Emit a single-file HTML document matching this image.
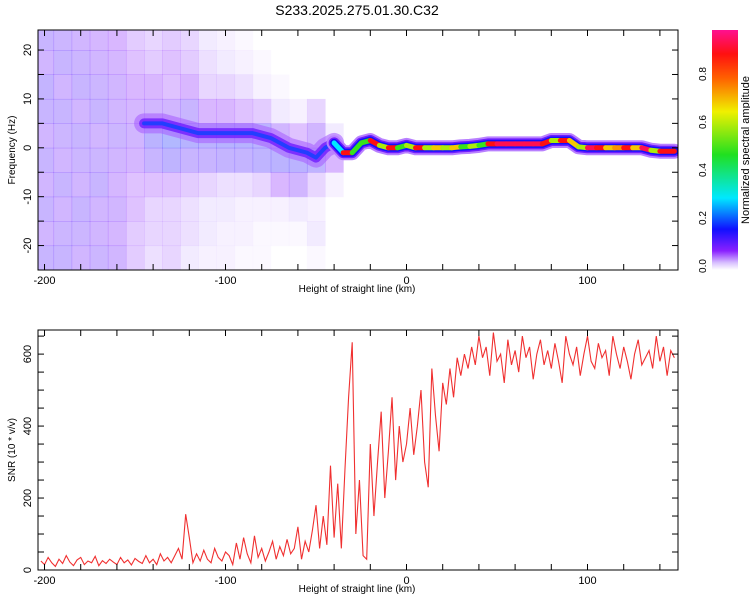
<!DOCTYPE html>
<html><head><meta charset="utf-8"><style>
body{margin:0;background:#fff;}
svg text{font-family:"Liberation Sans",sans-serif;fill:#000;}
</style></head><body>
<svg id="c" width="750" height="600" viewBox="0 0 750 600" xmlns="http://www.w3.org/2000/svg">
<text x="357" y="15" font-size="14" text-anchor="middle">S233.2025.275.01.30.C32</text>
<defs><linearGradient id="cbg" x1="0" y1="1" x2="0" y2="0">
<stop offset="0" stop-color="#ffffff"/><stop offset="0.03" stop-color="#d8c0ff"/><stop offset="0.08" stop-color="#8a20ff"/><stop offset="0.17" stop-color="#1010ff"/><stop offset="0.3" stop-color="#00e8ff"/><stop offset="0.48" stop-color="#20e020"/><stop offset="0.66" stop-color="#f0f000"/><stop offset="0.8" stop-color="#ff6000"/><stop offset="0.9" stop-color="#ff1010"/><stop offset="1" stop-color="#ff1090"/></linearGradient>
<clipPath id="clipTop"><rect x="38" y="30" width="640" height="240"/></clipPath>
<clipPath id="clipBot"><rect x="38" y="330" width="640" height="240"/></clipPath></defs>
<g id="topPanel"></g>
<g id="botPanel"></g>
<rect x="712" y="30" width="26" height="240" fill="url(#cbg)"/>
<text transform="translate(749,150) rotate(-90)" font-size="11" text-anchor="middle">Normalized spectral amplitude</text>
<g id="cbt"></g>
</svg>
<script>
const heatH=[-200,-190,-180,-170,-160,-150,-140,-130,-120,-110,-100,-90,-80,-70,-60,-50,-40];
const heatF=[22.5,17.5,12.5,7.5,2.5,-2.5,-7.5,-12.5,-17.5,-22.5];
const heatV=[
[.12,.1,.13,.12,.1,.12,.1,.12,.1,.12],
[.11,.12,.1,.12,.11,.1,.12,.1,.11,.12],
[.1,.11,.12,.1,.12,.11,.1,.12,.11,.1],
[.09,.1,.11,.12,.1,.11,.12,.1,.1,.11],
[.08,.09,.1,.1,.11,.1,.09,.1,.09,.1],
[.06,.07,.08,.09,.1,.09,.07,.07,.06,.06],
[.05,.06,.08,.1,.15,.12,.07,.05,.05,.04],
[.06,.07,.07,.1,.18,.14,.07,.05,.05,.05],
[.05,.06,.08,.12,.16,.12,.06,.04,.04,.03],
[.03,.04,.05,.08,.15,.12,.05,.03,.03,.02],
[.02,.03,.05,.08,.16,.13,.04,.03,.02,.02],
[.01,.02,.04,.07,.16,.13,.04,.02,.02,.01],
[0,.01,.02,.06,.15,.14,.05,.02,.01,.01],
[0,0,.01,.03,.1,.15,.08,.02,.01,0],
[0,0,0,.02,.07,.15,.1,.03,.01,0],
[0,0,0,.05,.1,.14,.05,.02,.03,.01],
[0,0,0,0,.03,.08,.02,0,0,0]];
const ridgeH=[-145,-135,-125,-115,-105,-95,-85,-75,-65,-55,-50,-45,-40,-35,-30,-25,-20,-15,-10,-5,0,5,10,15,20,25,30,35,40,45,50,55,60,65,70,75,80,85,90,95,100,105,110,115,120,125,130,135,140,148];
const ridgeF=[5,5,4,3,3,3,3,2,0,-1,-2,0,1,-1,-1,1,1.5,0.5,0,0,0.5,0,0,0,0,0,0.2,0.3,0.5,0.8,0.8,0.8,0.8,0.8,0.8,0.8,1.5,1.5,1.5,0.2,0,0,0,0,0,0,0,-0.5,-0.7,-0.7];
const ridgeA=[.2,.25,.2,.2,.22,.2,.2,.22,.18,.2,.2,.25,.3,.9,.5,.5,.9,.6,.9,.5,.6,.9,.6,.7,.6,.7,.5,.6,.5,.9,.95,.95,.95,.95,.95,.9,.6,.9,.7,.6,.95,.9,.7,.75,.9,.7,.95,.6,.9,.95];
const snrH=[];for(let h=-202;h<=148;h+=2)snrH.push(h);
const snrV=[25,15,35,20,10,30,18,40,22,12,28,35,15,25,20,38,12,26,18,30,22,15,35,20,28,14,32,24,18,40,20,30,15,45,25,35,20,
40,60,30,155,90,20,45,25,55,30,20,60,35,25,50,
40,15,75,30,90,45,20,95,35,60,25,50,80,30,65,40,85,45,60,
120,30,80,50,110,180,60,150,70,290,90,240,60,280,480,633,100,250,40,30,
350,150,300,440,200,330,480,250,400,300,350,450,320,400,500,300,230,560,430,330,520,460,560,480,590,540,600,560,620,570,650,590,
620,540,660,580,600,520,640,570,610,550,650,590,620,530,600,640,570,610,560,630,580,520,650,600,570,620,540,600,650,580,560,630,590,610,540,650,600,560,620,580,530,600,640,570,590,610,560,650,580,620,540,610,590];
const snrTicks=[0,200,400,600],fTicks=[-20,-10,0,10,20],hTicks=[-200,-100,0,100],cbTicks=[0,0.2,0.4,0.6,0.8];

const NS='http://www.w3.org/2000/svg';
function mk(t,a,p){const e=document.createElementNS(NS,t);for(const k in a)e.setAttribute(k,a[k]);p.appendChild(e);return e;}
const X0=38,X1=678,H0=-203.6,H1=150;
const xS=h=>X0+(h-H0)/(H1-H0)*(X1-X0);
const yF=f=>30+(24.1-f)/(24.1+25)*240;
const yS=v=>570-v/667*240;
const stops=[[0,[255,255,255]],[.03,[216,192,255]],[.08,[138,32,255]],[.17,[16,16,255]],[.3,[0,232,255]],[.48,[32,224,32]],[.66,[240,240,0]],[.8,[255,96,0]],[.9,[255,16,16]],[1,[255,16,144]]];
function cm(v){for(let i=1;i<stops.length;i++){if(v<=stops[i][0]){const a=stops[i-1],b=stops[i],t=(v-a[0])/(b[0]-a[0]);return 'rgb('+a[1].map((c,j)=>Math.round(c+(b[1][j]-c)*t)).join(',')+')';}}return 'rgb(255,16,144)';}

const topG=document.getElementById('topPanel'),botG=document.getElementById('botPanel');
const hg=mk('g',{'clip-path':'url(#clipTop)'},topG);
heatH.forEach((h,i)=>heatF.forEach((f,j)=>{const v=heatV[i][j];if(v<=0)return;
 const r=mk('rect',{x:xS(h-5),y:yF(f+2.5),width:xS(h+5)-xS(h-5)+0.5,height:yF(0)-yF(5)+0.5,fill:cm(v),opacity:0.32},hg);
 
 }));
const split=ridgeH.indexOf(-40);
const earlyPts=ridgeH.slice(0,split+1).map((h,i)=>xS(h)+','+yF(ridgeF[i])).join(' ');
const latePts=ridgeH.slice(split).map((h,i)=>xS(h)+','+yF(ridgeF[i+split])).join(' ');
[[20,cm(0.06),0.6],[10,cm(0.1),0.8],[4,cm(0.2),0.8]].forEach(([w,c,o])=>{const p=mk('polyline',{points:earlyPts,fill:'none',stroke:c,'stroke-width':w,'stroke-linejoin':'round','stroke-linecap':'round',opacity:o},hg);
 
 });
[[15,cm(0.05)],[11,cm(0.1)],[8,cm(0.17)]].forEach(([w,c])=>{const p=mk('polyline',{points:latePts,fill:'none',stroke:c,'stroke-width':w,'stroke-linejoin':'round','stroke-linecap':'round'},hg);
 
 });
for(let i=split;i<ridgeH.length-1;i++){const l=mk('line',{x1:xS(ridgeH[i]),y1:yF(ridgeF[i]),x2:xS(ridgeH[i+1]),y2:yF(ridgeF[i+1]),stroke:cm(ridgeA[i]),'stroke-width':5,'stroke-linecap':'round'},hg);
 
 }

function frame(g,y0,ymaj,yminStep,ymin,ymax,yfun,ylab){
 mk('rect',{x:X0,y:y0,width:X1-X0,height:240,fill:'none',stroke:'#000','stroke-width':1},g);
 for(let h=-200;h<=140;h+=20){const x=xS(h);mk('line',{x1:x,y1:y0,x2:x,y2:y0+6,stroke:'#000'},g);mk('line',{x1:x,y1:y0+240,x2:x,y2:y0+234,stroke:'#000'},g);}
 for(let v=Math.ceil(ymin/yminStep)*yminStep;v<=ymax;v+=yminStep){const y=yfun(v);mk('line',{x1:X0,y1:y,x2:X0+6,y2:y,stroke:'#000'},g);mk('line',{x1:X1,y1:y,x2:X1-6,y2:y,stroke:'#000'},g);}
 hTicks.forEach(h=>{const t=mk('text',{x:xS(h),y:y0+254,'font-size':11,'text-anchor':'middle'},g);t.textContent=h;
  
  });
 ymaj.forEach(v=>{const t=mk('text',{transform:'translate(31,'+yfun(v)+') rotate(-90)','font-size':11,'text-anchor':'middle'},g);t.textContent=v;
  
  });
 const xt=mk('text',{x:357,y:y0+262,'font-size':10,'text-anchor':'middle'},g);xt.textContent='Height of straight line (km)';
 
 
 const yt=mk('text',{transform:'translate(15,'+(y0+120)+') rotate(-90)','font-size':10,'text-anchor':'middle'},g);yt.textContent=ylab;
 
 
}
frame(topG,30,fTicks,5,-25,24,yF,'Frequency (Hz)');
const sg=mk('g',{'clip-path':'url(#clipBot)'},botG);
const sl=mk('polyline',{points:snrH.map((h,i)=>xS(h)+','+yS(snrV[i])).join(' '),fill:'none',stroke:'#f03030','stroke-width':1.1},sg);


frame(botG,330,snrTicks,50,0,667,yS,'SNR (10 * v/v)');
const cbt=document.getElementById('cbt');
cbTicks.forEach(v=>{const y=266-v*240;const t=mk('text',{transform:'translate(706,'+y+') rotate(-90)','font-size':10,'text-anchor':'middle'},cbt);t.textContent=v.toFixed(1);
 
 });
</script>
</body></html>
